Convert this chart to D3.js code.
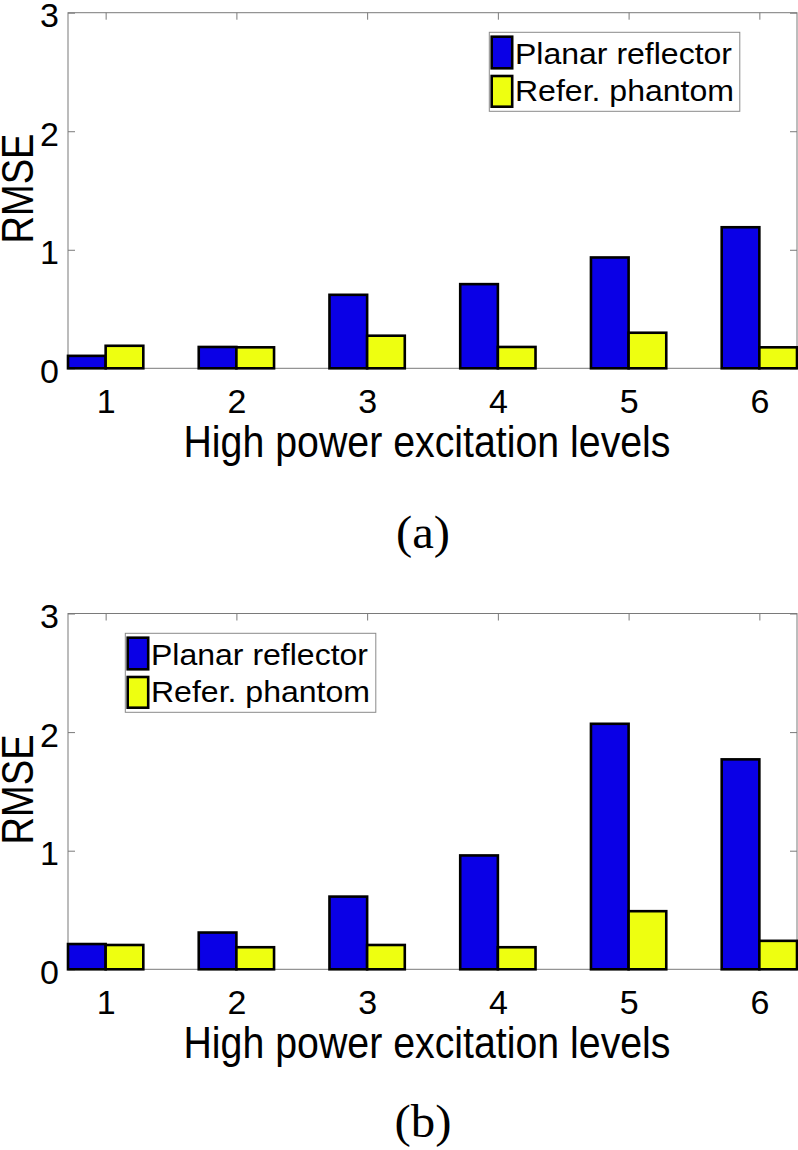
<!DOCTYPE html>
<html><head><meta charset="utf-8">
<script src="https://cdn.jsdelivr.net/npm/d3@7"></script>
<style>body{margin:0;background:#fff} svg{display:block}</style>
</head><body>
<svg id="c" width="798" height="1150"></svg>
<script>
// ---- data ----
const categories = [1, 2, 3, 4, 5, 6];
const seriesNames = ["Planar reflector", "Refer. phantom"];
const planarA  = [0.105, 0.18, 0.62, 0.71, 0.935, 1.19];
const phantomA = [0.19, 0.177, 0.275, 0.18, 0.30, 0.177];
const planarB  = [0.213, 0.31, 0.613, 0.96, 2.07, 1.77];
const phantomB = [0.205, 0.186, 0.205, 0.186, 0.49, 0.24];
const yTicks = [0, 1, 2, 3];
const xTitle = "High power excitation levels";
const yTitle = "RMSE";
const panelLabels = ["(a)", "(b)"];

const colors = ["#0a00e6", "#eeff10"];
const svg = d3.select("#c");
const X0 = 68, X1 = 797;
const barW = 0.288;

const panels = [
  {top: 12.7, bottom: 368.3, series: [planarA, phantomA], legX: 489.3, legY: 32.3, label: panelLabels[0], labY: 548},
  {top: 613.5, bottom: 969.3, series: [planarB, phantomB], legX: 125.3, legY: 633.3, label: panelLabels[1], labY: 1137}
];

const x = d3.scaleLinear().domain([categories[0] - barW, categories[categories.length - 1] + barW]).range([X0, X1]);

panels.forEach(p => {
  const y = d3.scaleLinear().domain([0, 3]).range([p.bottom, p.top]);
  const g = svg.append("g");

  // box
  g.append("rect").attr("x", X0).attr("y", p.top).attr("width", X1 - X0).attr("height", p.bottom - p.top)
    .attr("fill", "none").attr("stroke", "#7a7a7a").attr("stroke-width", 1);

  const yl = g.append("g").attr("transform", `translate(${X0},0)`)
    .call(d3.axisLeft(y).tickValues(yTicks).tickFormat(d3.format("d")).tickSizeInner(-7).tickSizeOuter(0).tickPadding(9));
  const yr = g.append("g").attr("transform", `translate(${X1},0)`)
    .call(d3.axisRight(y).tickValues(yTicks).tickFormat("").tickSizeInner(-7).tickSizeOuter(0));
  const xt = g.append("g").attr("transform", `translate(0,${p.top})`)
    .call(d3.axisTop(x).tickValues(categories).tickFormat("").tickSizeInner(-7).tickSizeOuter(0));
  const xb = g.append("g").attr("transform", `translate(0,${p.bottom})`)
    .call(d3.axisBottom(x).tickValues(categories).tickFormat(d3.format("d")).tickSizeInner(0).tickSizeOuter(0).tickPadding(20));

  [yl, yr, xt, xb].forEach(a => {
    a.select(".domain").remove();
    a.selectAll("line").attr("stroke", "#7a7a7a");
    a.selectAll("text").attr("font-family", "Liberation Sans, Arial, sans-serif")
      .attr("font-size", 34).attr("fill", "#000");
  });
  yl.selectAll("text").attr("dy", "0.41em");
  xb.selectAll("text").attr("dy", "0.72em");

  // bars
  p.series.forEach((vals, si) => {
    g.selectAll(null).data(categories).enter().append("rect")
      .attr("x", (c) => x(c - barW + si * barW))
      .attr("width", x(barW) - x(0))
      .attr("y", (c, i) => y(vals[i]))
      .attr("height", (c, i) => y(0) - y(vals[i]))
      .attr("fill", colors[si]).attr("stroke", "#000").attr("stroke-width", 2.6);
  });

  // axis titles
  g.append("text").attr("x", 427).attr("y", p.bottom + 89)
    .attr("text-anchor", "middle").attr("font-family", "Liberation Sans, Arial, sans-serif")
    .attr("font-size", 45).attr("textLength", 487).attr("lengthAdjust", "spacingAndGlyphs")
    .text(xTitle);
  const cy = (p.top + p.bottom) / 2 - 2;
  g.append("text").attr("transform", `translate(33,${cy}) rotate(-90)`)
    .attr("text-anchor", "middle").attr("font-family", "Liberation Sans, Arial, sans-serif")
    .attr("font-size", 44).attr("textLength", 110).attr("lengthAdjust", "spacingAndGlyphs")
    .text(yTitle);

  // panel label
  g.append("text").attr("x", 423).attr("y", p.labY)
    .attr("text-anchor", "middle").attr("font-family", "Liberation Serif, DejaVu Serif, serif")
    .attr("font-size", 47).attr("textLength", p.label === "(b)" ? 57 : 54).attr("lengthAdjust", "spacingAndGlyphs")
    .text(p.label);

  // legend
  const lg = g.append("g").attr("transform", `translate(${p.legX},${p.legY})`);
  lg.append("rect").attr("x", 0).attr("y", 0).attr("width", 250.5).attr("height", 79)
    .attr("fill", "#fff").attr("stroke", "#8a8a8a").attr("stroke-width", 1);
  const swY = [4.4, 43.7], swH = [31.6, 30.7], txY = [32, 68.5], txL = [217, 219];
  seriesNames.forEach((name, si) => {
    lg.append("rect").attr("x", 2.4).attr("y", swY[si]).attr("width", 20.5).attr("height", swH[si])
      .attr("fill", colors[si]).attr("stroke", "#000").attr("stroke-width", 2.6);
    lg.append("text").attr("x", 25.7).attr("y", txY[si])
      .attr("font-family", "Liberation Sans, Arial, sans-serif").attr("font-size", 29)
      .attr("textLength", txL[si]).attr("lengthAdjust", "spacingAndGlyphs")
      .text(name);
  });
});
</script>
</body></html>
